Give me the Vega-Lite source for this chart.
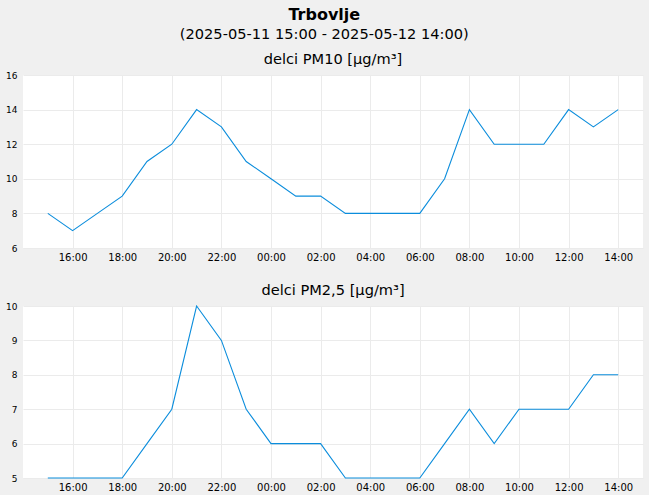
{
  "$schema": "https://vega.github.io/schema/vega-lite/v6.json",
  "background": "#f0f0f0",
  "padding": {"left": 5, "right": 6, "top": 6, "bottom": 3},
  "title": {
    "text": "Trbovlje",
    "subtitle": "(2025-05-11 15:00 - 2025-05-12 14:00)",
    "anchor": "middle",
    "font": "DejaVu Sans",
    "fontSize": 16,
    "fontWeight": "bold",
    "color": "#000000",
    "subtitleFont": "DejaVu Sans",
    "subtitleFontSize": 14.6,
    "subtitleColor": "#000000",
    "subtitlePadding": 4,
    "offset": 11
  },
  "datasets": {
    "air": [
      {"time": "2025-05-11T15:00", "pm10": 8, "pm25": 5},
      {"time": "2025-05-11T16:00", "pm10": 7, "pm25": 5},
      {"time": "2025-05-11T17:00", "pm10": 8, "pm25": 5},
      {"time": "2025-05-11T18:00", "pm10": 9, "pm25": 5},
      {"time": "2025-05-11T19:00", "pm10": 11, "pm25": 6},
      {"time": "2025-05-11T20:00", "pm10": 12, "pm25": 7},
      {"time": "2025-05-11T21:00", "pm10": 14, "pm25": 10},
      {"time": "2025-05-11T22:00", "pm10": 13, "pm25": 9},
      {"time": "2025-05-11T23:00", "pm10": 11, "pm25": 7},
      {"time": "2025-05-12T00:00", "pm10": 10, "pm25": 6},
      {"time": "2025-05-12T01:00", "pm10": 9, "pm25": 6},
      {"time": "2025-05-12T02:00", "pm10": 9, "pm25": 6},
      {"time": "2025-05-12T03:00", "pm10": 8, "pm25": 5},
      {"time": "2025-05-12T04:00", "pm10": 8, "pm25": 5},
      {"time": "2025-05-12T05:00", "pm10": 8, "pm25": 5},
      {"time": "2025-05-12T06:00", "pm10": 8, "pm25": 5},
      {"time": "2025-05-12T07:00", "pm10": 10, "pm25": 6},
      {"time": "2025-05-12T08:00", "pm10": 14, "pm25": 7},
      {"time": "2025-05-12T09:00", "pm10": 12, "pm25": 6},
      {"time": "2025-05-12T10:00", "pm10": 12, "pm25": 7},
      {"time": "2025-05-12T11:00", "pm10": 12, "pm25": 7},
      {"time": "2025-05-12T12:00", "pm10": 14, "pm25": 7},
      {"time": "2025-05-12T13:00", "pm10": 13, "pm25": 8},
      {"time": "2025-05-12T14:00", "pm10": 14, "pm25": 8}
    ]
  },
  "spacing": 21,
  "vconcat": [
    {
      "width": 620,
      "height": 173,
      "title": {"text": "delci PM10 [µg/m³]"},
      "data": {"name": "air"},
      "mark": {"type": "line", "color": "#0b8ddc", "strokeWidth": 1.1},
      "encoding": {
        "x": {
          "field": "time",
          "type": "temporal",
          "scale": {"domain": [{"year": 2025, "month": 5, "date": 11, "hours": 14}, {"year": 2025, "month": 5, "date": 12, "hours": 15}]},
          "axis": {
            "title": null,
            "format": "%H:%M",
            "values": [
              {"year": 2025, "month": 5, "date": 11, "hours": 16},
              {"year": 2025, "month": 5, "date": 11, "hours": 18},
              {"year": 2025, "month": 5, "date": 11, "hours": 20},
              {"year": 2025, "month": 5, "date": 11, "hours": 22},
              {"year": 2025, "month": 5, "date": 12, "hours": 0},
              {"year": 2025, "month": 5, "date": 12, "hours": 2},
              {"year": 2025, "month": 5, "date": 12, "hours": 4},
              {"year": 2025, "month": 5, "date": 12, "hours": 6},
              {"year": 2025, "month": 5, "date": 12, "hours": 8},
              {"year": 2025, "month": 5, "date": 12, "hours": 10},
              {"year": 2025, "month": 5, "date": 12, "hours": 12},
              {"year": 2025, "month": 5, "date": 12, "hours": 14}
            ]
          }
        },
        "y": {
          "field": "pm10",
          "type": "quantitative",
          "scale": {"domain": [6, 16], "nice": false, "zero": false},
          "axis": {"title": null, "values": [6, 8, 10, 12, 14, 16]}
        }
      }
    },
    {
      "width": 620,
      "height": 172,
      "title": {"text": "delci PM2,5 [µg/m³]"},
      "data": {"name": "air"},
      "mark": {"type": "line", "color": "#0b8ddc", "strokeWidth": 1.1},
      "encoding": {
        "x": {
          "field": "time",
          "type": "temporal",
          "scale": {"domain": [{"year": 2025, "month": 5, "date": 11, "hours": 14}, {"year": 2025, "month": 5, "date": 12, "hours": 15}]},
          "axis": {
            "title": null,
            "format": "%H:%M",
            "values": [
              {"year": 2025, "month": 5, "date": 11, "hours": 16},
              {"year": 2025, "month": 5, "date": 11, "hours": 18},
              {"year": 2025, "month": 5, "date": 11, "hours": 20},
              {"year": 2025, "month": 5, "date": 11, "hours": 22},
              {"year": 2025, "month": 5, "date": 12, "hours": 0},
              {"year": 2025, "month": 5, "date": 12, "hours": 2},
              {"year": 2025, "month": 5, "date": 12, "hours": 4},
              {"year": 2025, "month": 5, "date": 12, "hours": 6},
              {"year": 2025, "month": 5, "date": 12, "hours": 8},
              {"year": 2025, "month": 5, "date": 12, "hours": 10},
              {"year": 2025, "month": 5, "date": 12, "hours": 12},
              {"year": 2025, "month": 5, "date": 12, "hours": 14}
            ]
          }
        },
        "y": {
          "field": "pm25",
          "type": "quantitative",
          "scale": {"domain": [5, 10], "nice": false, "zero": false},
          "axis": {"title": null, "values": [5, 6, 7, 8, 9, 10]}
        }
      }
    }
  ],
  "config": {
    "font": "DejaVu Sans",
    "view": {"fill": "#ffffff", "stroke": null},
    "title": {
      "font": "DejaVu Sans",
      "fontSize": 14.6,
      "fontWeight": "normal",
      "color": "#000000",
      "anchor": "middle",
      "offset": 4
    },
    "axis": {
      "domain": false,
      "ticks": false,
      "tickSize": 0,
      "grid": true,
      "gridColor": "#ebebeb",
      "gridWidth": 1,
      "labelFont": "DejaVu Sans",
      "labelColor": "#000000"
    },
    "axisX": {"labelFontSize": 10, "labelPadding": 4},
    "axisY": {"labelFontSize": 9, "labelPadding": 6}
  }
}
